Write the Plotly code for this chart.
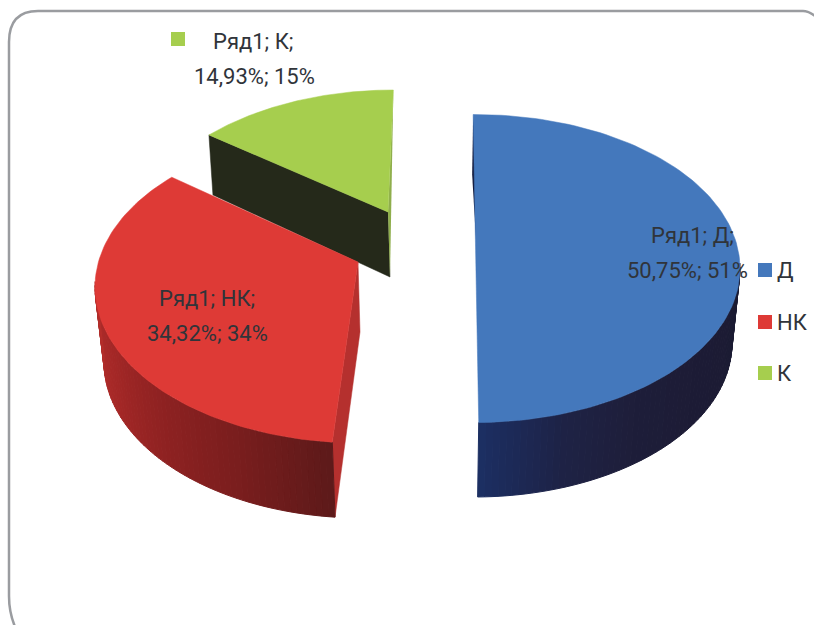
import math
import plotly.graph_objects as go

series_name = "Ряд1"
categories = ["Д", "НК", "К"]
percents = [50.75, 34.32, 14.93]
rounded = [51, 34, 15]
colors = ["#4478BC", "#DE3A36", "#A6CE4E"]

FONT = "Roboto"
TXT = "#30343a"

# view geometry of each slice (screen px): ellipse of top face, ellipse of bottom face, angle map
views = {
    "Д": dict(top=(475, 268.5, 265, 154), bot=(474, 343, 258, 154), th0=-0.4, gain=0.983),
    "НК": dict(top=(360, 287, 265, 156), bot=(362, 362, 258, 156), th0=186.0, gain=1.042, apex=(358, 262)),
    "К": dict(top=(393, 250, 265, 160), bot=None, th0=316.0, gain=0.82, apex=(388, 212)),
}
side_stops = {
    "Д": ["#1b1b33", "#1c1b34", "#1d1c36", "#1e1e3a", "#1e2346", "#1c2f62"],
    "НК": ["#5e1a1a", "#7a1e1e", "#8f2222", "#a52827", "#b42e2b"],
}

fig = go.Figure()


def hex2rgb(h):
    return tuple(int(h[i:i + 2], 16) for i in (1, 3, 5))


def mix(stops, t):
    t = max(0, min(1, t)) * (len(stops) - 1)
    i = min(int(t), len(stops) - 2)
    a, b = hex2rgb(stops[i]), hex2rgb(stops[i + 1])
    f = t - i
    return "rgb(%d,%d,%d)" % tuple(a[k] + (b[k] - a[k]) * f for k in range(3))


def pt(e, deg):
    r = math.radians(deg)
    return e[0] + e[2] * math.sin(r), e[1] - e[3] * math.cos(r)


def poly(xs, ys, color, width=0):
    fig.add_trace(go.Scatter(
        x=list(xs) + [xs[0]], y=list(ys) + [ys[0]], mode="lines", fill="toself", fillcolor=color,
        line=dict(color=color, width=width), showlegend=False, hoverinfo="skip"))


# angular extent of every slice from the values
spans = {}
acc = 0.0
for c, p in zip(categories, percents):
    a0 = acc * 3.6
    a1 = (acc + p) * 3.6
    v = views[c]
    spans[c] = (v["th0"], v["th0"] + v["gain"] * (a1 - a0))
    acc += p

# green slice: dark wall first, then top
gs, ge = spans["К"]
gv = views["К"]
gl = pt(gv["top"], gs)
gr = pt(gv["top"], ge)
ax, ay = gv["apex"]
poly([gl[0], ax, ax + 2, gl[0] + 4], [gl[1], ay, ay + 65, gl[1] + 60], "#25291a", 0.5)
poly([gr[0], ax, ax + 2, ax + 3], [gr[1], ay, ay + 65, ay], "#8fae4c")
angles = [gs + (ge - gs) * i / 60 for i in range(61)]
arc = [pt(gv["top"], a) for a in angles]
poly([q[0] for q in arc] + [ax], [q[1] for q in arc] + [ay], colors[2], 0.5)

# red slice
rs, re_ = spans["НК"]
rv = views["НК"]
ax, ay = rv["apex"]
corner_t = pt(rv["top"], rs)
corner_b = pt(rv["bot"], rs)
poly([ax, corner_t[0], corner_b[0], ax + 2], [ay, corner_t[1], corner_b[1], ay + 70], "#b5302e", 0.5)
n = 60
for i in range(n):
    a = rs + (272 - rs) * i / n
    b = rs + (272 - rs) * (i + 1) / n
    p1, p2, p3, p4 = pt(rv["top"], a), pt(rv["top"], b), pt(rv["bot"], b), pt(rv["bot"], a)
    poly([p1[0], p2[0], p3[0], p4[0]], [p1[1], p2[1], p3[1], p4[1]], mix(side_stops["НК"], i / (n - 1)), 1)
angles = [rs + (re_ - rs) * i / 90 for i in range(91)]
arc = [pt(rv["top"], a) for a in angles]
poly([q[0] for q in arc] + [ax], [q[1] for q in arc] + [ay], colors[1], 0.5)

# blue slice
bs, be = spans["Д"]
bv = views["Д"]
top0 = pt(bv["top"], bs)
poly([top0[0], top0[0] - 1, top0[0] + 7, top0[0] + 7], [top0[1], top0[1] + 60, top0[1] + 195, top0[1] + 100], "#141b3c")
for i in range(n):
    a = 88 + (be - 88) * i / n
    b = 88 + (be - 88) * (i + 1) / n
    p1, p2, p3, p4 = pt(bv["top"], a), pt(bv["top"], b), pt(bv["bot"], b), pt(bv["bot"], a)
    poly([p1[0], p2[0], p3[0], p4[0]], [p1[1], p2[1], p3[1], p4[1]], mix(side_stops["Д"], i / (n - 1)), 1)
angles = [bs + (be - bs) * i / 120 for i in range(121)]
arc = [pt(bv["top"], a) for a in angles]
poly([q[0] for q in arc], [q[1] for q in arc], colors[0], 0.5)

# legend, placed by hand because plotly's key-to-text gap is wider than the reference's
legend_y = [270, 322, 373]
fig.add_trace(go.Scatter(x=[765] * 3, y=legend_y, mode="markers", showlegend=False, hoverinfo="skip",
                         marker=dict(symbol="square", size=14, color=colors)))

# key that sits beside the green data label
fig.add_trace(go.Scatter(x=[178], y=[39], mode="markers", showlegend=False, hoverinfo="skip",
                         marker=dict(symbol="square", size=14, color=colors[2])))

label_pos = {"Д": ((692, 235), (687, 270)), "НК": ((207, 298), (207, 333)), "К": ((253, 41), (254, 76))}
annotations = []
for c, p, r in zip(categories, percents, rounded):
    l1, l2 = label_pos[c]
    for (x, y), t in ((l1, f"{series_name}; {c};"), (l2, f"{p:.2f}".replace(".", ",") + f"%; {r}%")):
        annotations.append(dict(x=x, y=y, xref="x", yref="y", text=t, showarrow=False,
                                font=dict(family=FONT, size=22, color=TXT), xanchor="center", yanchor="middle"))
for c, y in zip(categories, legend_y):
    annotations.append(dict(x=775, y=y, xref="x", yref="y", text=c, showarrow=False,
                            font=dict(family=FONT, size=22, color=TXT), xanchor="left", yanchor="middle"))

fig.update_layout(
    width=814, height=625, margin=dict(l=0, r=0, t=0, b=0), paper_bgcolor="white", plot_bgcolor="white",
    showlegend=False,
    xaxis=dict(range=[0, 814], visible=False, fixedrange=True),
    yaxis=dict(range=[625, 0], visible=False, fixedrange=True),
    annotations=annotations,
    shapes=[dict(type="path", layer="below", xref="x", yref="y",
                 path="M 22,640 Q 9,620 9,596 L 9,42 Q 9,11 38,11 L 803,11 Q 810,11 820,20",
                 line=dict(color="#9a9ca0", width=2.5))],
)
fig.write_html("out.html", config={"displayModeBar": False},
               post_script="document.body.style.margin='0';document.documentElement.style.overflow='hidden';")
